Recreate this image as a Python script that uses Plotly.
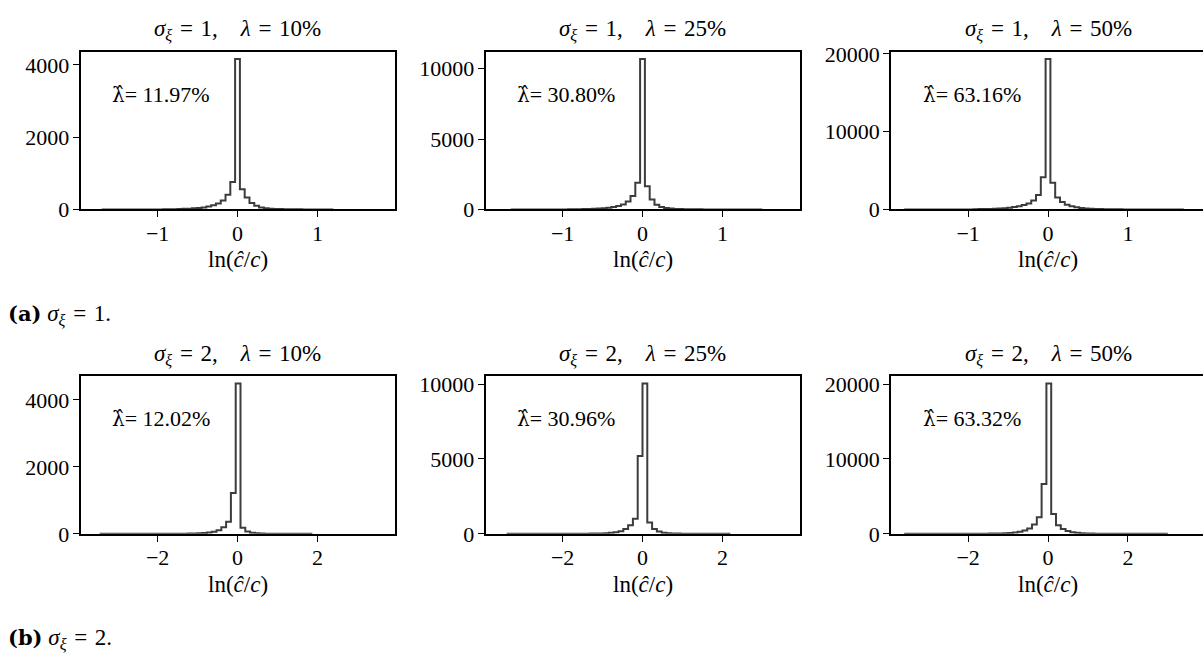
import plotly.graph_objects as go

W, H = 1203, 665

# ---------------- data ----------------
sigma_xi = [1, 1, 1, 2, 2, 2]
lambda_true = ["10%", "25%", "50%", "10%", "25%", "50%"]
lambda_hat = ["11.97%", "30.80%", "63.16%", "12.02%", "30.96%", "63.32%"]

bin_width = [0.06, 0.06, 0.06, 0.12, 0.12, 0.12]
peak_left_edge = [-0.03, -0.03, -0.03, -0.045, 0.0, -0.04]

peak_counts = [4160, 10690, 19330, 4490, 10040, 20080]

# counts of the bins left of the peak (nearest first)
left_counts = [
    [760, 410, 250, 165, 115, 80, 55, 40, 30, 22, 16, 12, 9, 7, 5],
    [1900, 950, 560, 360, 250, 175, 125, 90, 65, 48, 36, 27, 20, 15, 11],
    [4140, 1860, 1150, 780, 560, 420, 310, 230, 170, 125, 95, 72, 55, 42, 32],
    [1220, 360, 200, 110, 65, 40, 26, 18, 12, 9, 6, 4, 3, 2, 2],
    [5200, 1000, 580, 320, 180, 110, 70, 45, 30, 20, 14, 10, 7, 5, 3],
    [6660, 2230, 1240, 720, 430, 280, 180, 120, 85, 60, 42, 30, 22, 16, 12],
]
# counts of the bins right of the peak (nearest first)
right_counts = [
    [560, 330, 180, 100, 55, 35, 22, 14, 10, 7, 5, 4, 3, 2, 2],
    [1640, 700, 340, 180, 100, 60, 38, 25, 17, 12, 8, 6, 4, 3, 2],
    [3430, 1540, 950, 620, 420, 280, 190, 130, 90, 62, 44, 31, 22, 15, 10],
    [180, 70, 35, 18, 10, 6, 4, 3, 2, 1, 1, 1, 0, 0, 0],
    [750, 320, 150, 80, 45, 25, 15, 10, 6, 4, 3, 2, 1, 1, 1],
    [2660, 1160, 640, 390, 220, 130, 80, 50, 32, 20, 13, 9, 6, 4, 3],
]
# extent of each sample (where the zero-count baseline of the histogram ends)
data_lo = [-1.70, -1.65, -1.80, -3.45, -3.40, -3.60]
data_hi = [1.20, 1.50, 1.70, 1.80, 2.20, 3.00]

y_ticks = [[0, 2000, 4000], [0, 5000, 10000], [0, 10000, 20000]] * 2
y_tick_text = [["0", "2000", "4000"], ["0", "5000", "10000"], ["0", "10000", "20000"]] * 2
x_ticks = [[-1, 0, 1]] * 3 + [[-2, 0, 2]] * 3
x_half_range = [1.965] * 3 + [3.93] * 3

S3 = "\u2004"   # three-per-em space (math spacing around '=')
EM = "\u2003"   # quad space after the comma
BOLD_SPAN = '<span style="font-family:DejaVu Serif;font-size:21px"><b>{}</b></span>'
captions = [BOLD_SPAN.format("(a)") + f" <i>σ<sub>ξ</sub></i>{S3}={S3}1.",
            BOLD_SPAN.format("(b)") + f" <i>σ<sub>ξ</sub></i>{S3}={S3}2."]
HAT_SPAN = '<span style="font-family:DejaVu Serif;font-size:20px">λ\u0302</span>'

# ---------------- layout geometry (pixels) ----------------
ax_left = [80.5, 485.5, 891.0]
ax_w = 314.0
row_top = [43.0, 379.0]
ax_h = 163.6

FONT = "Liberation Serif"
LINE = "#3c3c3c"
TXT_X = 0.095
TXT_Y = 0.73
TICK_FONT = dict(family=FONT, size=22, color="black")

fig = go.Figure()
layout = dict(
    width=W, height=H, autosize=False,
    margin=dict(l=0, r=0, t=0, b=0),
    paper_bgcolor="white", plot_bgcolor="white",
    font=dict(family=FONT, size=21, color="black"),
    showlegend=False,
)

annotations = []
for i in range(6):
    r, c = divmod(i, 3)
    n = i + 1
    xname = "x" if n == 1 else f"x{n}"
    yname = "y" if n == 1 else f"y{n}"

    w = bin_width[i]
    L = left_counts[i]
    R = right_counts[i]
    counts = L[::-1] + [peak_counts[i]] + R
    e0 = peak_left_edge[i] - len(L) * w
    edges = [e0 + k * w for k in range(len(counts) + 1)]
    xs = [data_lo[i]] + edges + [data_hi[i]]
    ys = [0] + counts + [0, 0]
    fig.add_trace(go.Scatter(
        x=xs, y=ys, mode="lines",
        line=dict(shape="hv", color=LINE, width=2),
        xaxis=xname, yaxis=yname, hoverinfo="skip",
    ))

    l_px = ax_left[c]
    r_px = min(l_px + ax_w, W)
    hr = x_half_range[i]
    x_lo = -hr
    x_hi = -hr + 2 * hr * (r_px - l_px) / ax_w
    t_px = row_top[r]
    b_px = t_px + ax_h

    ymax = 1.05 * peak_counts[i]

    layout[f"xaxis{n}"] = dict(
        domain=[l_px / W, r_px / W], range=[x_lo, x_hi], anchor=yname,
        tickvals=x_ticks[i], ticks="outside", ticklen=6, tickwidth=1.3, tickcolor="black",
        ticklabelstandoff=-3,
        showline=True, linecolor="black", linewidth=1.5, mirror=True,
        showgrid=False, zeroline=False, tickfont=TICK_FONT,
    )
    layout[f"yaxis{n}"] = dict(
        domain=[1 - b_px / H, 1 - t_px / H], range=[0, ymax], anchor=xname,
        tickvals=y_ticks[i], ticktext=y_tick_text[i],
        ticks="outside", ticklen=6, tickwidth=1.3, tickcolor="black",
        ticklabelstandoff=-1,
        showline=True, linecolor="black", linewidth=1.5, mirror=(c != 2),
        showgrid=False, zeroline=False, tickfont=TICK_FONT,
    )

    cx = (l_px + ax_w / 2) / W
    # subplot title
    annotations.append(dict(
        xref="paper", yref="paper", x=cx, y=1 - (t_px - 22) / H,
        xanchor="center", yanchor="middle", showarrow=False,
        text=(f"<i>σ<sub>ξ</sub></i>{S3}={S3}{sigma_xi[i]},{EM}"
              f"<i>λ</i>{S3}={S3}{lambda_true[i]}"),
        font=dict(family=FONT, size=23, color="black"),
    ))
    # x-axis label
    annotations.append(dict(
        xref="paper", yref="paper", x=cx, y=1 - (b_px + 52) / H,
        xanchor="center", yanchor="middle", showarrow=False,
        text="ln(<i>ĉ</i>/<i>c</i>)",
        font=dict(family=FONT, size=23, color="black"),
    ))
    # estimated lambda text (hat drawn with a combining circumflex)
    annotations.append(dict(
        xref=f"{xname} domain", yref=f"{yname} domain", x=TXT_X, y=TXT_Y,
        xanchor="left", yanchor="middle", showarrow=False,
        text=f"{HAT_SPAN}= {lambda_hat[i]}",
        font=dict(family=FONT, size=22, color="black"),
    ))

for r in range(2):
    annotations.append(dict(
        xref="paper", yref="paper", x=6 / W, y=1 - (row_top[r] + ax_h + 109) / H,
        xanchor="left", yanchor="middle", showarrow=False,
        text=captions[r], font=dict(family=FONT, size=23, color="black"),
    ))

layout["annotations"] = annotations
fig.update_layout(**layout)
fig.write_html("out.html")
